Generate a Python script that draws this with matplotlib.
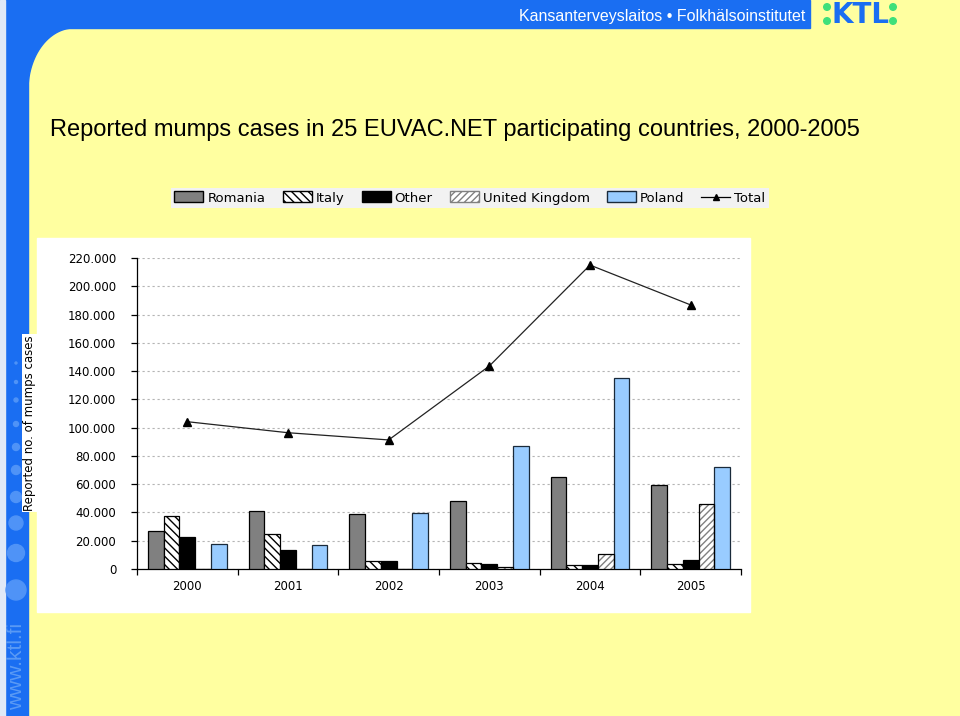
import matplotlib
matplotlib.use('Agg')
import numpy as np
from matplotlib import pyplot as plt
from matplotlib.patches import Rectangle, Circle, Polygon, Patch
from matplotlib.lines import Line2D
from matplotlib.ticker import FuncFormatter, MultipleLocator

years = ['2000', '2001', '2002', '2003', '2004', '2005']
romania = [26900, 41000, 38900, 48100, 64900, 59700]
italy = [37500, 24500, 5700, 4000, 2800, 3300]
other = [22600, 13200, 5900, 3300, 2800, 6600]
united_kingdom = [300, 200, 300, 1400, 10400, 46000]
poland = [17500, 16800, 39600, 87200, 135100, 72000]
total = [104200, 96400, 91300, 143600, 215000, 186800]

title = 'Reported mumps cases in 25 EUVAC.NET participating countries, 2000-2005'
header = 'Kansanterveyslaitos \u2022 Folkh\u00e4lsoinstitutet'

W, H = 960, 716
BLUE = '#1a6ef2'
YELLOW = '#ffffa0'

fig = plt.figure(figsize=(W / 100, H / 100), dpi=100)

# background slide decoration in pixel coordinates
bg = fig.add_axes([0, 0, 1, 1])
bg.set_xlim(0, W)
bg.set_ylim(H, 0)
bg.axis('off')
bg.add_patch(Rectangle((0, 0), W, H, color=YELLOW, zorder=0))
bg.add_patch(Rectangle((0, 0), 810, 28, color=BLUE, zorder=1))
bg.add_patch(Rectangle((5, 0), 23, H, color=BLUE, zorder=1))
bg.add_patch(Rectangle((0, 0), 5, H, color='#dfe9f7', zorder=1))
# rounded corner of the yellow area
t = np.linspace(np.pi, 1.5 * np.pi, 30)
arc = np.column_stack([74 + 46 * np.cos(t), 90 + 62 * np.sin(t)])
bg.add_patch(Polygon(np.vstack([[[28, 28]], [[28, 90]], arc, [[74, 28]]]), color=BLUE, zorder=1))
for cy, r in zip([363, 382, 400, 424, 447, 470, 497, 523, 553, 590],
                 [1, 1.5, 2, 2.5, 3.5, 4.5, 5.5, 7, 8.5, 10]):
    bg.add_patch(Circle((16, cy), r, color='#4f93f7', zorder=2))
bg.text(17, 710, 'www.ktl.fi', rotation=90, color='#5a9af5', fontsize=15,
        ha='center', va='bottom', family='Liberation Sans', zorder=2)

# header text and logo
bg.text(805, 16, header, color='white', fontsize=11.5, ha='right', va='center',
        family=['Liberation Sans Narrow', 'Liberation Sans'], zorder=3)
bg.text(860, 15, 'KTL', color=BLUE, fontsize=20, fontweight='bold', ha='center',
        va='center', family='Liberation Sans Narrow', zorder=3)
for dx, dy in [(827, 7), (827, 21), (893, 7), (893, 21)]:
    bg.add_patch(Circle((dx, dy), 3.3, color='#3ee07a', zorder=3))

bg.text(50, 130, title, fontsize=17, ha='left', va='center',
        family='Liberation Sans', color='black', zorder=3)

# white chart area
bg.add_patch(Rectangle((37, 238), 713, 374, color='white', zorder=1))

# chart axes
left, right, top, bottom = 137, 741, 258, 569
ax = fig.add_axes([left / W, (H - bottom) / H, (right - left) / W, (bottom - top) / H])
ax.set_facecolor('none')

x = np.arange(len(years))
bw = 0.156
offs = (np.arange(5) - 2) * bw

ax.bar(x + offs[0], romania, bw, color='#808080', edgecolor='black', lw=0.9, zorder=3)
ax.bar(x + offs[1], italy, bw, color='white', edgecolor='black', lw=0, hatch='\\\\\\\\', zorder=3)
ax.bar(x + offs[1], italy, bw, fill=False, edgecolor='black', lw=0.9, zorder=4)
ax.bar(x + offs[2], other, bw, color='black', edgecolor='black', lw=0.9, zorder=3)
ax.bar(x + offs[3], united_kingdom, bw, color='white', edgecolor='#808080', lw=0, hatch='/////', zorder=3)
ax.bar(x + offs[3], united_kingdom, bw, fill=False, edgecolor='black', lw=0.9, zorder=4)
ax.bar(x + offs[4], poland, bw, color='#99ccff', edgecolor='#1a2a3a', lw=0.9, zorder=3)
ax.plot(x, total, color='#222222', lw=0.9, marker='^', markersize=6,
        markerfacecolor='black', markeredgecolor='black', zorder=5)

ax.set_xlim(-0.5, len(years) - 0.5)
ax.set_ylim(0, 220000)
ax.yaxis.set_major_locator(MultipleLocator(20000))
ax.yaxis.set_major_formatter(FuncFormatter(lambda v, p: '0' if v == 0 else f'{int(v):,}'.replace(',', '.')))
ax.grid(axis='y', color='#b4b4b4', linestyle=(0, (2, 2.5)), lw=0.8, zorder=0)
ax.set_xticks(x)
ax.set_xticklabels(years)
ax.set_xticks(np.arange(len(years) + 1) - 0.5, minor=True)
ax.tick_params(axis='x', which='major', length=0, pad=8, labelsize=8.5)
ax.tick_params(axis='x', which='minor', length=4, direction='out', width=0.9)
ax.tick_params(axis='y', length=4, direction='out', width=0.9, labelsize=8.5, pad=11)
for s in ['top', 'right']:
    ax.spines[s].set_visible(False)
for s in ['left', 'bottom']:
    ax.spines[s].set_linewidth(0.9)

fig.text(30 / W, 1 - 423 / H, 'Reported no. of mumps cases', rotation=90, fontsize=8.5,
         ha='center', va='center', bbox=dict(facecolor='white', edgecolor='none', pad=1))

handles = [
    Patch(facecolor='#808080', edgecolor='black', label='Romania'),
    Patch(facecolor='white', edgecolor='black', hatch='\\\\\\\\', label='Italy'),
    Patch(facecolor='black', edgecolor='black', label='Other'),
    Patch(facecolor='white', edgecolor='#808080', hatch='/////', label='United Kingdom'),
    Patch(facecolor='#99ccff', edgecolor='#1a2a3a', label='Poland'),
    Line2D([], [], color='black', lw=0.9, marker='^', markersize=5, label='Total'),
]
fig.legend(handles=handles, ncol=6, loc='center', bbox_to_anchor=(470 / W, 1 - 198 / H),
           frameon=True, fancybox=False, facecolor='#f2f2f2', edgecolor='none',
           fontsize=9.5, handlelength=2.2, handleheight=0.9, columnspacing=1.3,
           handletextpad=0.3, borderpad=0.3, framealpha=1)

fig.savefig('out.png', dpi=100)
